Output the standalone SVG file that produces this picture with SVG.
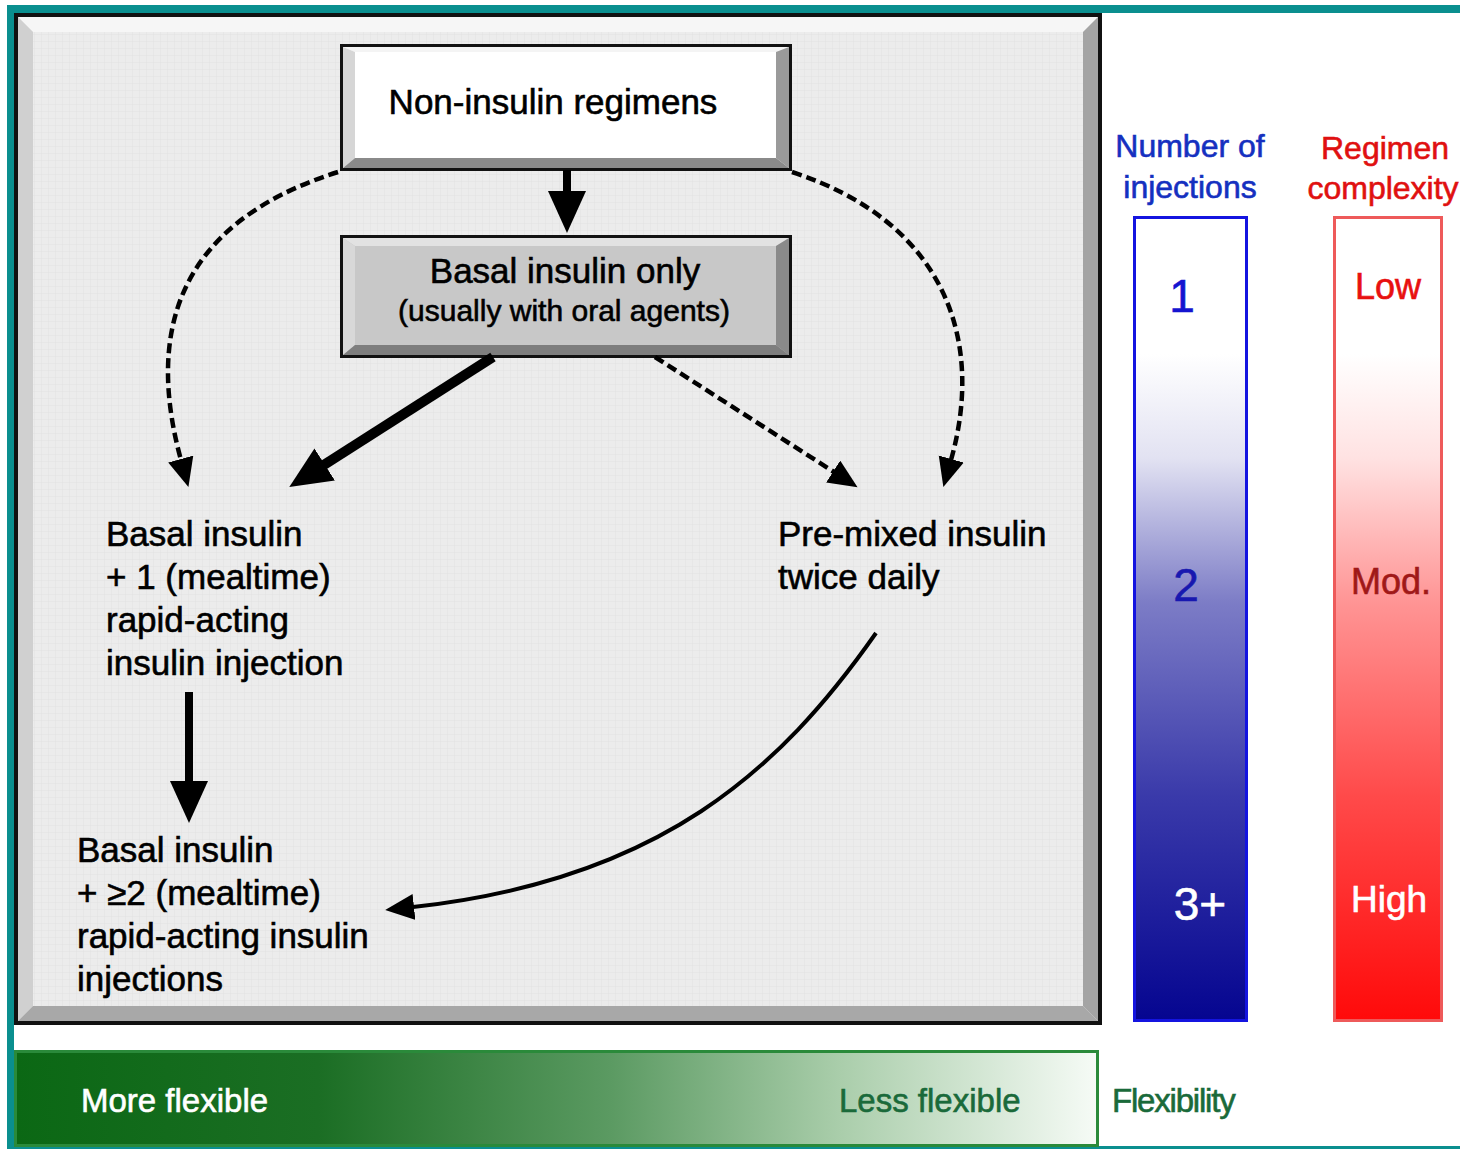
<svg xmlns="http://www.w3.org/2000/svg" width="1460" height="1149" viewBox="0 0 1460 1149">
<style>
  .t { font-family: "Liberation Sans", Arial, Helvetica, sans-serif; stroke-width: 0.6; }
  .lbl { font-size: 35px; fill: #000; stroke: #000; }
  .sub { font-size: 30px; fill: #000; stroke: #000; }
  .dash { fill: none; stroke: #000; stroke-width: 4.5; stroke-dasharray: 10 5; }
  .solid { fill: none; stroke: #000; }
</style>
<defs>
  <pattern id="grid" width="7" height="7" patternUnits="userSpaceOnUse">
    <rect width="7" height="7" fill="#ececec"/>
    <path d="M7 0 V7 M0 7 H7" stroke="#e2e2e2" stroke-width="1"/>
  </pattern>
  <linearGradient id="blueG" x1="0" y1="0" x2="0" y2="1">
    <stop offset="0" stop-color="#ffffff"/>
    <stop offset="0.17" stop-color="#ffffff"/>
    <stop offset="0.3" stop-color="#e2e2f2"/>
    <stop offset="0.48" stop-color="#7c7cc6"/>
    <stop offset="0.72" stop-color="#3a3aaa"/>
    <stop offset="1" stop-color="#050590"/>
  </linearGradient>
  <linearGradient id="redG" x1="0" y1="0" x2="0" y2="1">
    <stop offset="0" stop-color="#ffffff"/>
    <stop offset="0.17" stop-color="#ffffff"/>
    <stop offset="0.3" stop-color="#ffe2e2"/>
    <stop offset="0.48" stop-color="#ff9494"/>
    <stop offset="0.72" stop-color="#ff4a4a"/>
    <stop offset="1" stop-color="#ff0a0a"/>
  </linearGradient>
  <linearGradient id="greenG" x1="0" y1="0" x2="1" y2="0">
    <stop offset="0" stop-color="#0b6814"/>
    <stop offset="0.28" stop-color="#1b6e24"/>
    <stop offset="0.55" stop-color="#5b9a62"/>
    <stop offset="0.76" stop-color="#a9cdaa"/>
    <stop offset="1" stop-color="#f6fbf6"/>
  </linearGradient>
  <marker id="bigHead" markerUnits="userSpaceOnUse" markerWidth="46" markerHeight="44" refX="2" refY="20" orient="auto">
    <path d="M0,1 L42,20 L0,39 z" fill="#000"/>
  </marker>
  <marker id="dashHead" markerUnits="userSpaceOnUse" markerWidth="32" markerHeight="30" refX="1" refY="13" orient="auto">
    <path d="M0,0 L29,13 L0,26 z" fill="#000"/>
  </marker>
</defs>

<rect width="1460" height="1149" fill="#ffffff"/>

<!-- teal frame -->
<g id="frame">
  <rect x="7" y="5" width="1453" height="8" fill="#0a8f8f"/>
  <rect x="7" y="5" width="7" height="1144" fill="#0a8f8f"/>
  <rect x="7" y="1146" width="1453" height="3" fill="#0a8f8f"/>
</g>

<!-- main panel -->
<g id="panel">
  <rect x="16" y="15" width="1084" height="1008" fill="#ececec" stroke="#111" stroke-width="4"/>
  <polygon points="18,17 1098,17 1083,32 33,32" fill="#f6f6f6"/>
  <polygon points="18,17 33,32 33,1006 18,1021" fill="#d0d0d0"/>
  <polygon points="1098,17 1098,1021 1083,1006 1083,32" fill="#a4a4a4"/>
  <polygon points="18,1021 33,1006 1083,1006 1098,1021" fill="#a8a8a8"/>
  <rect x="33" y="32" width="1050" height="974" fill="url(#grid)"/>
</g>

<!-- nodes -->
<g id="node-noninsulin">
  <rect x="341.5" y="45.5" width="449" height="124" fill="#ffffff" stroke="#111" stroke-width="3"/>
  <polygon points="343,47 789,47 784,52 355,52" fill="#f4f4f4"/>
  <polygon points="343,47 355,52 355,158 343,168" fill="#d6d6d6"/>
  <polygon points="789,47 789,168 776,158 776,52" fill="#9a9a9a"/>
  <polygon points="343,168 355,158 776,158 789,168" fill="#8a8a8a"/>
  <text class="t lbl" x="553" y="114" text-anchor="middle">Non-insulin regimens</text>
</g>

<g id="node-basal">
  <rect x="341.5" y="236.5" width="449" height="120" fill="#c8c8c8" stroke="#111" stroke-width="3"/>
  <polygon points="343,238 789,238 776,246 355,246" fill="#e2e2e2"/>
  <polygon points="343,238 355,246 355,345 343,355" fill="#d8d8d8"/>
  <polygon points="789,238 789,355 776,345 776,246" fill="#8a8a8a"/>
  <polygon points="343,355 355,345 776,345 789,355" fill="#7e7e7e"/>
  <text class="t lbl" x="565" y="283" text-anchor="middle">Basal insulin only</text>
  <text class="t sub" x="564" y="321" text-anchor="middle">(usually with oral agents)</text>
</g>

<g id="node-basal1">
  <text class="t lbl" x="106" y="546">Basal insulin</text>
  <text class="t lbl" x="106" y="589">+ 1 (mealtime)</text>
  <text class="t lbl" x="106" y="632">rapid-acting</text>
  <text class="t lbl" x="106" y="675">insulin injection</text>
</g>

<g id="node-premixed">
  <text class="t lbl" x="778" y="546">Pre-mixed insulin</text>
  <text class="t lbl" x="778" y="589">twice daily</text>
</g>

<g id="node-basal2">
  <text class="t lbl" x="77" y="862">Basal insulin</text>
  <text class="t lbl" x="77" y="905">+ ≥2 (mealtime)</text>
  <text class="t lbl" x="77" y="948">rapid-acting insulin</text>
  <text class="t lbl" x="77" y="991">injections</text>
</g>

<!-- connectors -->
<g id="connectors">
  <path class="solid" d="M567,170 L567,193" stroke-width="8" marker-end="url(#bigHead)"/>
  <path class="solid" d="M493,357 L323,465.5" stroke-width="10" marker-end="url(#bigHead)"/>
  <path class="solid" d="M189,692 L189,783" stroke-width="8" marker-end="url(#bigHead)"/>
  <path class="dash" d="M338,172 C170,225 148,340 181,460" marker-end="url(#dashHead)"/>
  <path class="dash" d="M792,172 C945,222 985,340 951,460" marker-end="url(#dashHead)"/>
  <path class="dash" d="M655,357 L834,472" marker-end="url(#dashHead)"/>
  <path class="solid" d="M876,633 C780,770 660,880 413,907" stroke-width="4" marker-end="url(#dashHead)"/>
</g>

<!-- legend: number of injections -->
<g id="legend-injections">
  <text class="t" x="1190" y="157" text-anchor="middle" font-size="32" fill="#1530c0" stroke="#1530c0">Number of</text>
  <text class="t" x="1190" y="198" text-anchor="middle" font-size="32" fill="#1530c0" stroke="#1530c0">injections</text>
  <rect x="1134.5" y="217.5" width="112" height="803" fill="url(#blueG)" stroke="#1414e0" stroke-width="3"/>
  <text class="t" x="1182" y="312" text-anchor="middle" font-size="46" fill="#1414d0" stroke="#1414d0">1</text>
  <text class="t" x="1186" y="601" text-anchor="middle" font-size="46" fill="#1818b0" stroke="#1818b0">2</text>
  <text class="t" x="1200" y="920" text-anchor="middle" font-size="46" fill="#ffffff" stroke="#ffffff">3+</text>
</g>

<!-- legend: regimen complexity -->
<g id="legend-complexity">
  <text class="t" x="1385" y="159" text-anchor="middle" font-size="32" fill="#e01010" stroke="#e01010">Regimen</text>
  <text class="t" x="1383" y="199" text-anchor="middle" font-size="32" fill="#e01010" stroke="#e01010">complexity</text>
  <rect x="1334.5" y="217.5" width="107" height="803" fill="url(#redG)" stroke="#ee5a5a" stroke-width="3"/>
  <text class="t" x="1388" y="299" text-anchor="middle" font-size="36" fill="#e81010" stroke="#e81010">Low</text>
  <text class="t" x="1391" y="594" text-anchor="middle" font-size="36" fill="#a01818" stroke="#a01818">Mod.</text>
  <text class="t" x="1389" y="912" text-anchor="middle" font-size="37" fill="#ffffff" stroke="#ffffff">High</text>
</g>

<!-- legend: flexibility -->
<g id="legend-flexibility">
  <rect x="15.5" y="1051.5" width="1082" height="94" fill="url(#greenG)" stroke="#2a8a3a" stroke-width="3"/>
  <text class="t" x="81" y="1112" font-size="33" fill="#ffffff" stroke="#ffffff">More flexible</text>
  <text class="t" x="839" y="1112" font-size="33" fill="#1a6a3a" stroke="#1a6a3a">Less flexible</text>
  <text class="t" x="1112" y="1112" font-size="33" letter-spacing="-1.2" fill="#1a6a3a" stroke="#1a6a3a">Flexibility</text>
</g>
</svg>
